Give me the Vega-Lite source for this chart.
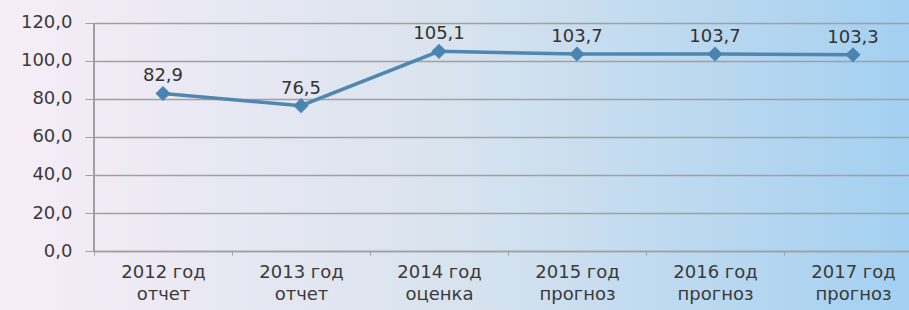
{
  "$schema": "https://vega.github.io/schema/vega-lite/v6.json",
  "width": 909,
  "height": 310,
  "autosize": {"type": "none"},
  "padding": 0,
  "background": "#dde5ef",
  "config": {
    "locale": {"number": {"decimal": ",", "thousands": " ", "grouping": [3], "currency": ["", ""]}},
    "view": {
      "stroke": null,
      "fill": {"gradient": "linear", "x1": 0, "y1": 0, "x2": 1, "y2": 0,
        "stops": [{"offset": 0, "color": "#f7edf7"}, {"offset": 0.5, "color": "#d8e3ee"}, {"offset": 1, "color": "#a3d0f1"}]}
    },
    "font": "DejaVu Sans"
  },
  "data": {"values": [
    {"cat": "2012 год|отчет", "value": 82.9},
    {"cat": "2013 год|отчет", "value": 76.5},
    {"cat": "2014 год|оценка", "value": 105.1},
    {"cat": "2015 год|прогноз", "value": 103.7},
    {"cat": "2016 год|прогноз", "value": 103.7},
    {"cat": "2017 год|прогноз", "value": 103.3}
  ]},
  "encoding": {
    "x": {"field": "cat", "type": "nominal", "sort": null,
      "scale": {"type": "band", "range": [94, 922], "paddingInner": 0, "paddingOuter": 0},
      "axis": {"title": null, "orient": "bottom", "offset": -59, "labelAngle": 0,
        "labelExpr": "split(datum.label, '|')", "labelFont": "DejaVu Sans", "labelFontSize": 18,
        "labelColor": "#3a3a3a", "labelPadding": 8, "labelLineHeight": 22,
        "tickBand": "extent", "tickSize": 4, "tickColor": "#a0a0a0",
        "domainColor": "#a0a0a0", "domainWidth": 1.5, "grid": false}
    },
    "y": {"type": "quantitative",
      "scale": {"domain": [-31.05, 132.1], "nice": false, "zero": false},
      "axis": {"title": null, "orient": "left", "offset": -94, "values": [0, 20, 40, 60, 80, 100, 120],
        "format": ".1f", "labelFont": "DejaVu Sans", "labelFontSize": 18, "labelColor": "#3a3a3a",
        "labelPadding": 13, "domain": false, "tickSize": 9, "tickColor": "#a0a0a0",
        "grid": true, "gridColor": "#a0a0a0", "gridWidth": 1.5}
    }
  },
  "layer": [
    {
      "mark": {"type": "rule", "color": "#a0a0a0", "strokeWidth": 1.5},
      "encoding": {
        "x": {"datum": "2012 год|отчет", "bandPosition": 0},
        "y": {"datum": 0},
        "y2": {"datum": 120}
      }
    },
    {
      "mark": {"type": "line", "color": "#4f87b0", "strokeWidth": 3.5},
      "encoding": {"y": {"field": "value"}}
    },
    {
      "mark": {"type": "point", "shape": "diamond", "filled": true, "size": 230, "color": "#4a84b2", "opacity": 1},
      "encoding": {"y": {"field": "value"}}
    },
    {
      "mark": {"type": "text", "dy": -17, "fontSize": 18, "color": "#333333", "font": "DejaVu Sans"},
      "encoding": {"y": {"field": "value"}, "text": {"field": "value", "format": ".1f"}}
    }
  ]
}
